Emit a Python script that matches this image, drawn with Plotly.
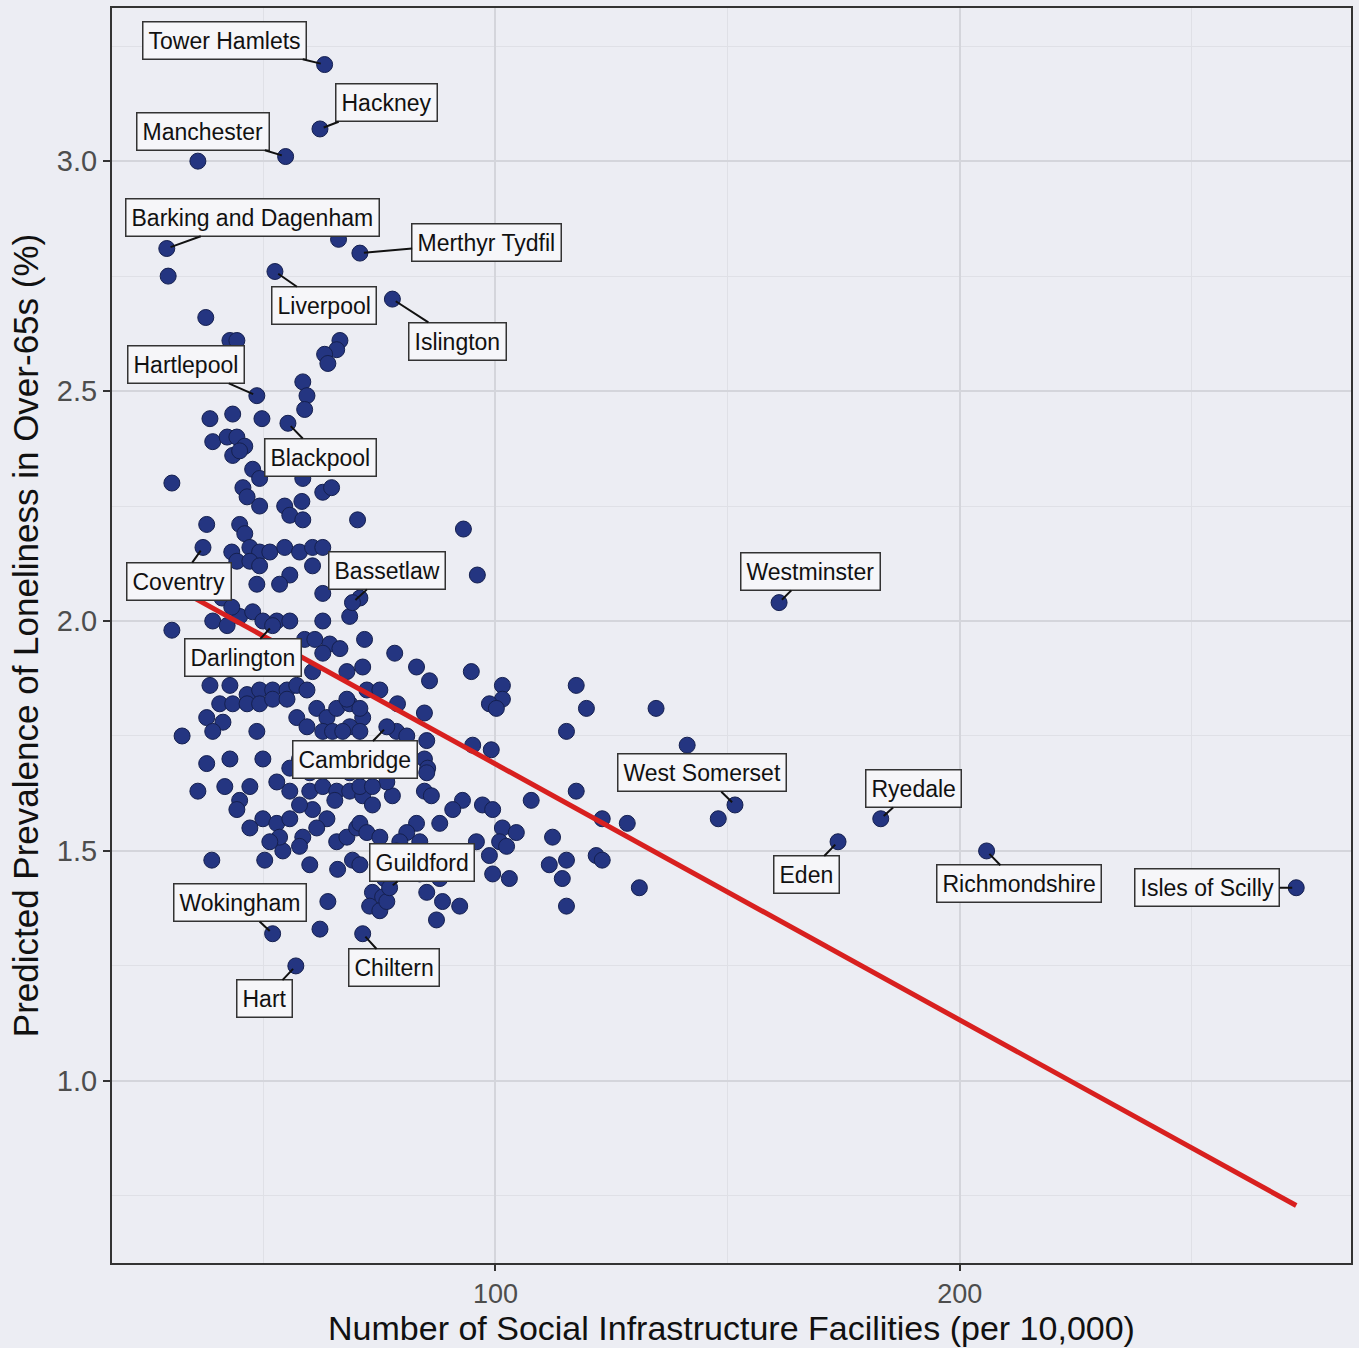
import plotly.graph_objects as go

# ---------------- data ----------------
x_vals = [
    35.9, 29.5, 66.2, 37.6, 42.8, 44.3, 66.5, 65.8, 63.2, 63.9, 58.5, 59.4, 58.9, 38.5, 43.4, 49.7,
    39.1, 42.2, 44.3, 46.0, 43.4, 44.9, 47.7, 49.2, 30.3, 45.6, 46.5, 58.5, 62.8, 64.7, 49.2, 54.6,
    55.7, 58.3, 58.5, 70.3, 37.8, 44.9, 46.0, 47.1, 49.2, 51.4, 54.6, 57.8, 60.6, 62.8, 43.2, 44.3,
    47.1, 49.2, 60.6, 55.7, 93.1, 96.1, 48.6, 53.5, 62.8, 68.6, 70.8, 30.3, 39.1, 42.2, 44.9, 47.7,
    49.9, 52.9, 55.7, 62.8, 64.3, 62.8, 66.5, 71.8, 68.0, 71.4, 60.6, 38.5, 42.8, 46.5, 49.2, 52.0,
    55.1, 57.2, 59.4, 40.6, 43.4, 46.5, 49.2, 52.0, 55.1, 37.8, 41.3, 39.1, 48.6, 32.5, 57.2, 59.4,
    61.5, 63.7, 62.8, 64.9, 68.6, 65.8, 68.6, 71.4, 42.8, 49.9, 37.8, 35.9, 52.9, 55.7, 47.1, 44.9,
    44.3, 49.9, 52.9, 60.0, 62.8, 65.8, 68.6, 71.4, 60.6, 63.7, 61.5, 58.5, 57.8, 65.8, 68.0, 70.1,
    54.2, 38.9, 50.3, 60.0, 66.0, 69.2, 63.9, 62.2, 78.3, 83.0, 85.8, 94.8, 101.5, 101.5, 98.7, 100.2,
    72.3, 75.1, 68.0, 70.8, 78.9, 84.7, 78.7, 80.9, 70.8, 67.1, 85.2, 84.7, 85.4, 95.1, 99.1, 85.2,
    84.7, 86.2, 70.8, 73.5, 77.8, 76.6, 73.5, 92.9, 97.2, 99.4, 90.8, 107.7, 88.0, 83.0, 80.9, 79.4,
    78.7, 70.8, 72.3, 75.1, 83.7, 101.5, 104.5, 100.9, 102.4, 95.9, 98.7, 99.4, 103.0, 112.3, 111.6, 114.4,
    115.3, 70.8, 73.5, 75.7, 72.9, 75.1, 76.6, 85.2, 88.6, 92.3, 87.3, 117.4, 119.6, 115.3, 134.6, 117.4,
    123.0, 128.4, 121.7, 123.0, 131.0, 115.3, 141.3, 148.0,
    58.9, 61.1, 41.1, 43.2, 66.5, 62.2, 57.8, 55.7, 60.0, 68.6, 65.4, 57.8, 55.7, 53.5, 51.4, 41.7,
    47.1, 88.0, 84.7, 83.7, 76.1,
]
y_vals = [
    3.00, 2.75, 2.83, 2.66, 2.61, 2.61, 2.61, 2.59, 2.58, 2.56, 2.52, 2.49, 2.46, 2.44, 2.45, 2.44,
    2.39, 2.40, 2.40, 2.38, 2.36, 2.37, 2.33, 2.31, 2.30, 2.29, 2.27, 2.31, 2.28, 2.29, 2.25, 2.25,
    2.23, 2.26, 2.22, 2.22, 2.21, 2.21, 2.19, 2.16, 2.15, 2.15, 2.16, 2.15, 2.16, 2.16, 2.15, 2.13,
    2.13, 2.12, 2.12, 2.10, 2.20, 2.10, 2.08, 2.08, 2.06, 2.01, 2.05, 1.98, 2.00, 1.99, 2.01, 2.02,
    2.00, 2.00, 2.00, 2.00, 1.95, 1.93, 1.94, 1.96, 1.89, 1.90, 1.89, 1.86, 1.86, 1.84, 1.85, 1.85,
    1.85, 1.86, 1.85, 1.82, 1.82, 1.82, 1.82, 1.83, 1.83, 1.79, 1.78, 1.76, 1.76, 1.75, 1.79, 1.77,
    1.81, 1.79, 1.76, 1.76, 1.77, 1.81, 1.82, 1.79, 1.70, 1.70, 1.69, 1.63, 1.65, 1.63, 1.64, 1.61,
    1.59, 1.57, 1.56, 1.63, 1.64, 1.63, 1.63, 1.62, 1.59, 1.57, 1.55, 1.53, 1.51, 1.52, 1.53, 1.55,
    1.50, 1.48, 1.48, 1.47, 1.46, 1.48, 1.39, 1.33, 1.93, 1.90, 1.87, 1.89, 1.86, 1.83, 1.82, 1.81,
    1.85, 1.85, 1.83, 1.81, 1.82, 1.80, 1.76, 1.75, 1.76, 1.76, 1.74, 1.70, 1.68, 1.73, 1.72, 1.67,
    1.63, 1.62, 1.64, 1.60, 1.62, 1.65, 1.64, 1.61, 1.60, 1.59, 1.59, 1.61, 1.56, 1.56, 1.54, 1.52,
    1.50, 1.56, 1.54, 1.53, 1.52, 1.55, 1.54, 1.52, 1.51, 1.52, 1.49, 1.45, 1.44, 1.53, 1.47, 1.44,
    1.48, 1.47, 1.41, 1.40, 1.38, 1.37, 1.39, 1.41, 1.39, 1.38, 1.35, 1.86, 1.81, 1.76, 1.81, 1.63,
    1.57, 1.56, 1.49, 1.48, 1.42, 1.38, 1.73, 1.57,
    1.96, 1.96, 2.05, 2.03, 1.70, 1.69, 1.70, 1.68, 1.67, 1.67, 1.61, 1.60, 1.57, 1.53, 1.52, 1.64,
    1.55, 1.44, 1.48, 1.45, 1.44,
]

label_names = [
    "Tower Hamlets", "Hackney", "Manchester", "Barking and Dagenham", "Merthyr Tydfil",
    "Liverpool", "Islington", "Hartlepool", "Blackpool", "Coventry", "Bassetlaw",
    "Darlington", "Cambridge", "Guildford", "Wokingham", "Chiltern", "Hart",
    "Westminster", "West Somerset", "Eden", "Ryedale", "Richmondshire", "Isles of Scilly",
]
label_x = [63.2, 62.2, 54.8, 29.2, 70.8, 52.5, 77.8, 48.6, 55.3, 37.0, 69.2,
           52.0, 76.6, 77.2, 52.0, 71.4, 57.0, 161.1, 151.6, 173.8, 183.0, 205.8, 272.5]
label_y = [3.21, 3.07, 3.01, 2.81, 2.80, 2.76, 2.70, 2.49, 2.43, 2.16, 2.04,
           1.99, 1.77, 1.42, 1.32, 1.32, 1.25, 2.04, 1.60, 1.52, 1.57, 1.50, 1.42]

fit_x = [28.5, 272.5]
fit_y = [2.087, 0.729]

x_ticks = [100, 200]
y_ticks = [1.0, 1.5, 2.0, 2.5, 3.0]
y_tick_text = ["1.0", "1.5", "2.0", "2.5", "3.0"]

# ---------------- style ----------------
# label box offsets (pixels, box centre relative to its point)
label_offsets = {
    "Tower Hamlets": (-100, -24), "Hackney": (67, -26), "Manchester": (-83, -25),
    "Barking and Dagenham": (86, -31), "Merthyr Tydfil": (127, -11), "Liverpool": (49, 34),
    "Islington": (65, 42), "Hartlepool": (-71, -31), "Blackpool": (33, 34),
    "Coventry": (-24, 34), "Bassetlaw": (35, -32), "Darlington": (-30, 32),
    "Cambridge": (-32, 33), "Guildford": (32, -25), "Wokingham": (-33, -31),
    "Chiltern": (31, 34), "Hart": (-31, 33), "Westminster": (31, -31),
    "West Somerset": (-33, -32), "Eden": (-32, 33), "Ryedale": (33, -30),
    "Richmondshire": (32, 33), "Isles of Scilly": (-89, 0),
}

BG = "#ECEDF3"
POINT = "#243581"
FONT = "Liberation Sans, Arial, sans-serif"

fig = go.Figure()
fig.add_trace(go.Scatter(
    x=x_vals + label_x, y=y_vals + label_y, mode="markers",
    marker=dict(size=16, color=POINT, line=dict(color="#15204f", width=1)),
    showlegend=False, hoverinfo="skip",
))
fig.add_trace(go.Scatter(
    x=fit_x, y=fit_y, mode="lines",
    line=dict(color="#D8201F", width=5),
    showlegend=False, hoverinfo="skip",
))

for name, lx, ly in zip(label_names, label_x, label_y):
    ax, ay = label_offsets[name]
    fig.add_annotation(
        x=lx, y=ly, xref="x", yref="y", text=name,
        showarrow=True, arrowhead=0, arrowwidth=2, arrowcolor="#111111",
        ax=ax, ay=ay, standoff=4,
        font=dict(family=FONT, size=23, color="#111111"),
        bgcolor="#F6F6F9", bordercolor="#333333", borderwidth=1.5, borderpad=5,
    )

fig.update_layout(
    width=1359, height=1348,
    margin=dict(l=112, r=6, t=8, b=85),
    paper_bgcolor=BG, plot_bgcolor=BG,
    font=dict(family=FONT),
    xaxis=dict(
        range=[17.4, 284.3], tickvals=x_ticks,
        showgrid=True, gridcolor="#D4D5DB", gridwidth=2,
        minor=dict(tickvals=[50, 150, 250], showgrid=True, gridcolor="#DFE0E6", gridwidth=1),
        ticks="outside", ticklen=6, tickwidth=1.5, tickcolor="#333333",
        tickfont=dict(size=27, color="#4d4d4d", family=FONT),
        showline=True, linecolor="#333333", linewidth=2, mirror=True,
        zeroline=False,
        title=dict(text="Number of Social Infrastructure Facilities (per 10,000)",
                   font=dict(size=34, color="#111111", family=FONT), standoff=4),
    ),
    yaxis=dict(
        range=[0.604, 3.333], tickvals=y_ticks, ticktext=y_tick_text,
        showgrid=True, gridcolor="#D4D5DB", gridwidth=2,
        minor=dict(tickvals=[0.75, 1.25, 1.75, 2.25, 2.75, 3.25], showgrid=True,
                   gridcolor="#DFE0E6", gridwidth=1),
        ticks="outside", ticklen=7, tickwidth=1.5, tickcolor="#333333",
        tickfont=dict(size=29, color="#4d4d4d", family=FONT),
        showline=True, linecolor="#333333", linewidth=2, mirror=True,
        zeroline=False,
        title=dict(text="Predicted Prevalence of Loneliness in Over-65s (%)",
                   font=dict(size=35, color="#111111", family=FONT), standoff=8),
    ),
)

fig.write_html("out.html", config={"displayModeBar": False},
               post_script="document.body.style.margin='0';")
